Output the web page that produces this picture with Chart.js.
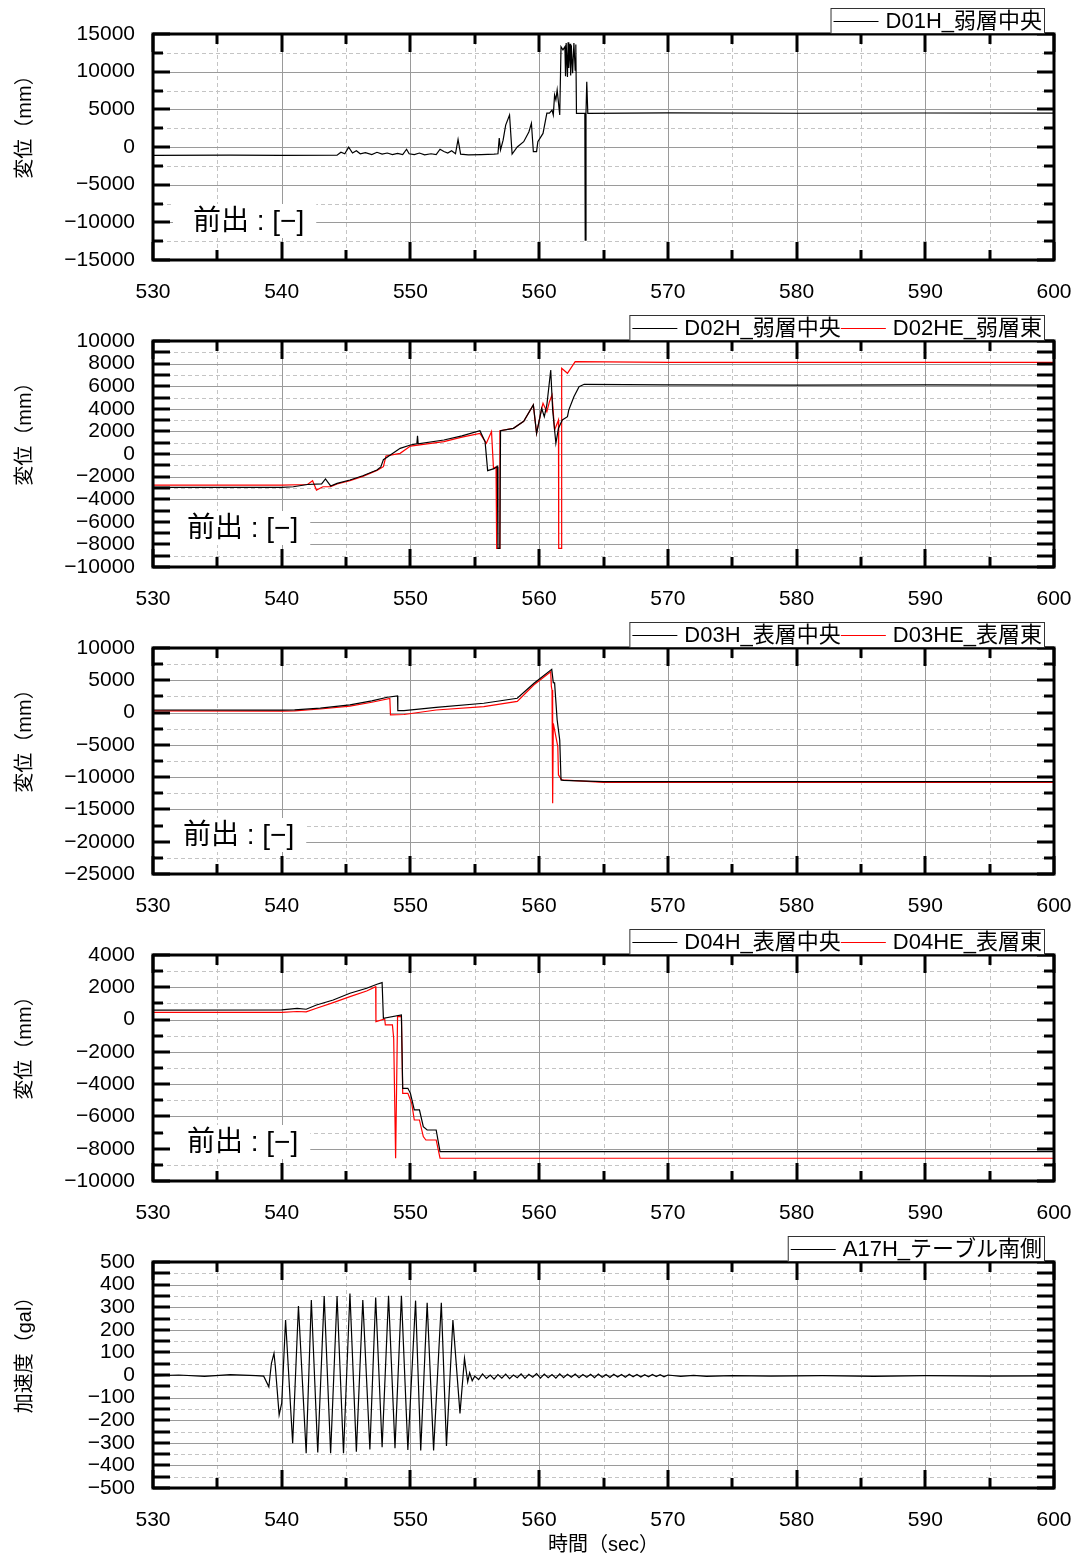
<!DOCTYPE html>
<html lang="ja">
<head>
<meta charset="utf-8">
<title>変位・加速度 時刻歴</title>
<script src="https://cdn.jsdelivr.net/npm/chart.js@4.4.1/dist/chart.umd.min.js"></script>
<style>
  html, body { margin: 0; padding: 0; background: #fff; }
  #wrap { position: relative; width: 1078px; height: 1560px; overflow: hidden; }
  #wrap canvas { position: absolute; left: 0; }
</style>
</head>
<body>
<div id="wrap"></div>
<script>
// ---- time axis ----
const timeTicks = [530, 540, 550, 560, 570, 580, 590, 600];

// ---- D01H 弱層中央 [t (sec), mm] ----
const d01h = [
  [530, -1100], [536, -1080], [540, -1110], [544.3, -1090], [544.6, -700], [544.9, -900], [545.2, -20],
  [545.5, -800], [545.8, -500], [546.1, -900], [546.5, -750], [547, -1000], [547.4, -700], [547.8, -950],
  [548.2, -800], [548.6, -1000], [549, -850], [549.4, -1000], [549.7, -300], [549.9, -900], [550.3, -1000],
  [550.7, -800], [551.1, -1050], [551.6, -900], [552, -1000], [552.3, -300], [552.6, -600], [552.9, -800],
  [553.2, -500], [553.5, -900], [553.7, 1000], [553.9, -950], [554.5, -1050], [555.5, -1000], [556.5, -950],
  [556.8, -900], [556.9, 1200], [557.0, -400], [557.2, 900], [557.4, 2900], [557.7, 4250], [557.9, -930],
  [558.3, 0], [558.8, 700], [559.2, 2000], [559.4, 3150], [559.55, -620], [559.8, -620], [559.9, 700],
  [560.3, 1800], [560.6, 4500], [560.8, 4500], [561.0, 4900], [561.1, 4250], [561.2, 6900], [561.3, 6250],
  [561.4, 7570], [561.6, 4250], [561.7, 13300], [561.85, 12900], [562.0, 13300], [562.05, 9400],
  [562.1, 13800], [562.2, 9300], [562.25, 13900], [562.3, 10500], [562.4, 13700], [562.45, 9500],
  [562.5, 13500], [562.6, 9800], [562.7, 13800], [562.8, 10200], [562.85, 13600], [562.9, 4470],
  [563.55, 4470], [563.58, -12350], [563.64, 4470], [563.7, 8670], [563.78, 4470], [570, 4520],
  [580, 4480], [590, 4510], [600, 4500]
];

// ---- D02H 弱層中央 / D02HE 弱層東 ----
const d02h = [
  [530, -2950], [540, -2950], [540.9, -2900], [542, -2700], [543.1, -2650], [543.4, -2210], [543.8, -2830],
  [544.3, -2600], [545.3, -2300], [546.3, -1920], [547.4, -1420], [547.7, -1150], [547.9, -500],
  [548.3, -200], [549.2, 500], [550.0, 800], [550.5, 900], [550.55, 1600], [550.6, 900], [552.6, 1240],
  [554, 1600], [555.4, 2060], [555.8, 1090], [556.0, -1470], [556.5, -1300], [556.75, -1100],
  [556.8, -8350], [556.95, -8350], [557.0, 2060], [558.0, 2270], [558.8, 2900], [559.55, 4340],
  [559.8, 1830], [560.2, 4040], [560.4, 3300], [560.6, 4340], [560.9, 7430], [561.05, 3890],
  [561.3, 950], [561.5, 2270], [561.8, 3010], [562.2, 3300], [562.3, 3890], [562.7, 5070], [563.1, 5960],
  [563.5, 6170], [570, 6120], [580, 6100], [590, 6110], [600, 6100]
];
const d02he = [
  [530, -2750], [540, -2750], [542, -2700], [542.4, -2360], [542.7, -3190], [543.2, -2900], [543.8, -2890],
  [544.3, -2650], [545.3, -2350], [546.3, -1980], [547.4, -1450], [547.9, -1120], [548.1, -180],
  [549.2, 60], [550.0, 700], [552.6, 1090], [554, 1500], [555.4, 1830], [555.9, 950], [556.3, 1980],
  [556.45, -1240], [556.65, -1150], [556.7, -8350], [556.9, -8350], [556.95, 2060], [558.0, 2270],
  [558.8, 2900], [559.55, 4340], [559.8, 1830], [560.2, 4040], [560.3, 4490], [560.6, 3740],
  [560.8, 4630], [561.0, 5220], [561.2, 2120], [561.5, 3010], [561.52, -8350], [561.72, -8350],
  [561.75, 7580], [562.2, 7140], [562.8, 8170], [570, 8100], [580, 8100], [590, 8110], [600, 8100]
];

// ---- D03H 表層中央 / D03HE 表層東 ----
const d03h = [
  [530, 400], [540, 380], [541, 420], [543, 700], [545.3, 1180], [547, 1800], [548.2, 2370], [549.0, 2570],
  [549.02, 300], [549.5, 300], [552, 800], [555.7, 1440], [558.3, 2210], [559.6, 4540], [560.98, 6700],
  [561.1, 4630], [561.2, 4600], [561.4, -1150], [561.6, -4240], [561.7, -10430], [561.9, -10500],
  [565, -10700], [580, -10700], [600, -10700]
];
const d03he = [
  [530, 250], [540, 230], [541, 270], [543, 550], [545.3, 1010], [547, 1600], [548.4, 2200], [548.45, -370],
  [549.5, -300], [552, 400], [555.7, 920], [558.3, 1740], [559.6, 4300], [560.9, 6330], [560.95, 4010],
  [561.0, 3500], [561.05, -14050], [561.1, -1660], [561.45, -5280], [561.5, -9660], [561.75, -10430],
  [565, -10800], [580, -10800], [600, -10800]
];

// ---- D04H 表層中央 / D04HE 表層東 ----
const d04h = [
  [530, 590], [540, 600], [541.2, 690], [541.9, 640], [542.7, 900], [544, 1210], [545.3, 1630],
  [546.6, 1940], [547.4, 2190], [547.8, 2290], [547.9, 80], [549.3, 290], [549.4, -4260], [549.8, -4260],
  [550.0, -4570], [550.3, -5600], [550.7, -5600], [551.0, -6630], [551.3, -6840], [552.0, -6840],
  [552.3, -8180], [600, -8180]
];
const d04he = [
  [530, 450], [540, 440], [541.2, 500], [541.9, 480], [542.7, 700], [544, 1050], [545.3, 1420],
  [546.6, 1770], [547.3, 2040], [547.32, -130], [548.0, 40], [548.05, -330], [548.6, -330],
  [548.7, -1160], [548.85, -8590], [549.0, 180], [549.3, 200], [549.4, -4570], [549.8, -4570],
  [550.1, -5190], [550.3, -6220], [550.7, -6220], [551.0, -7250], [551.2, -7460], [552.0, -7460],
  [552.3, -8590], [600, -8590]
];

// ---- A17H テーブル南側 [t (sec), gal] ----
const a17h = [
  [530, -4], [532, 0], [534, -6], [536, 2], [538, -3], [538.6, -5], [539.0, -52], [539.2, 52], [539.4, 96],
  [539.5, 40], [539.8, -177], [540.0, -125], [540.3, 243], [540.85, -302], [541.3, 305], [541.9, -346],
  [542.3, 332], [542.8, -343], [543.3, 350], [543.8, -346], [544.3, 350], [544.8, -346], [545.3, 361],
  [545.8, -339], [546.3, 332], [546.85, -329], [547.3, 343], [547.8, -320], [548.3, 350], [548.8, -324],
  [549.3, 350], [549.8, -332], [550.4, 329], [550.8, -334], [551.3, 320], [551.8, -334], [552.4, 320],
  [552.8, -314], [553.3, 243], [553.85, -170], [554.2, 74], [554.45, -30], [554.6, 10], [554.8, -25],
  [555, -5], [555.3, -20], [555.6, 5], [555.9, -15], [556.2, 0], [556.5, -18], [556.8, 2], [557.1, -14],
  [557.4, 4], [557.7, -16], [558, 0], [558.3, -12], [558.6, 5], [558.9, -15], [559.2, 3], [559.5, -10],
  [559.8, 6], [560.1, -14], [560.4, 4], [560.7, -12], [561, 2], [561.3, -14], [561.6, 5], [561.9, -12],
  [562.2, 3], [562.5, -10], [562.8, 4], [563.1, -12], [563.4, 2], [563.7, -10], [564, 3], [564.3, -12],
  [564.6, 4], [564.9, -10], [565.2, 2], [565.5, -11], [565.8, 3], [566.1, -9], [566.4, 2], [566.7, -10],
  [567, 3], [567.3, -8], [567.6, 2], [567.9, -9], [568.2, 1], [568.5, -8], [568.8, 2], [569.1, -7],
  [569.4, 1], [569.7, -8], [570, 0], [571, -6], [572, -2], [573, -6], [575, -3], [578, -5], [582, -3],
  [586, -6], [590, -3], [595, -5], [600, -4]
];

// ---- y tick labels per panel ----
const ticks01 = [-15000, -10000, -5000, 0, 5000, 10000, 15000];
const ticks02 = [-10000, -8000, -6000, -4000, -2000, 0, 2000, 4000, 6000, 8000, 10000];
const ticks03 = [-25000, -20000, -15000, -10000, -5000, 0, 5000, 10000];
const ticks04 = [-10000, -8000, -6000, -4000, -2000, 0, 2000, 4000];
const ticks05 = [-500, -400, -300, -200, -100, 0, 100, 200, 300, 400, 500];

const BLACK = '#000000';
const RED = '#ff0000';
const LATIN_CJK = "'Liberation Sans', 'Noto Sans CJK JP', sans-serif";

const panels = [
  { series: [{ label: 'D01H_弱層中央', data: d01h, color: BLACK }],
    yTicks: ticks01, minor: 2500, minorLen: 10, title: '変位（mm）', noteX: 193 },
  { series: [{ label: 'D02H_弱層中央', data: d02h, color: BLACK }, { label: 'D02HE_弱層東', data: d02he, color: RED }],
    yTicks: ticks02, minor: 1000, minorLen: 17, title: '変位（mm）', noteX: 187 },
  { series: [{ label: 'D03H_表層中央', data: d03h, color: BLACK }, { label: 'D03HE_表層東', data: d03he, color: RED }],
    yTicks: ticks03, minor: 2500, minorLen: 10, title: '変位（mm）', noteX: 183 },
  { series: [{ label: 'D04H_表層中央', data: d04h, color: BLACK }, { label: 'D04HE_表層東', data: d04he, color: RED }],
    yTicks: ticks04, minor: 1000, minorLen: 10, title: '変位（mm）', noteX: 187 },
  { series: [{ label: 'A17H_テーブル南側', data: a17h, color: BLACK }],
    yTicks: ticks05, minor: 50, minorLen: 17, title: '加速度（gal）', xTitle: '時間（sec）' }
];

const PANEL_STEP = 307;
const PLOT_LEFT = 153, PLOT_RIGHT = 1054, PLOT_TOP = 34, PLOT_BOTTOM = 260;

function fmt(v) {
  return v < 0 ? '\u2212' + Math.abs(v) : String(v);
}

function hline(ctx, y, x0, x1) {
  const yy = Math.round(y) + 0.5;
  ctx.beginPath(); ctx.moveTo(x0, yy); ctx.lineTo(x1, yy); ctx.stroke();
}
function vline(ctx, x, y0, y1) {
  const xx = Math.round(x) + 0.5;
  ctx.beginPath(); ctx.moveTo(xx, y0); ctx.lineTo(xx, y1); ctx.stroke();
}

// grid, frame, inward ticks, legend box, titles
const framePlugin = {
  id: 'frame',
  beforeDatasetsDraw(chart) {
    const p = chart.options.plugins.frame;
    const ctx = chart.ctx;
    const { left, right, top, bottom } = chart.chartArea;
    const xs = chart.scales.x, ys = chart.scales.y;
    const yMin = p.yTicks[0], yMax = p.yTicks[p.yTicks.length - 1];
    ctx.save();
    ctx.lineWidth = 1;

    // minor (dashed) grid
    ctx.strokeStyle = '#c4c4c4';
    ctx.setLineDash([4, 3]);
    for (let t = timeTicks[0] + 5; t < timeTicks[timeTicks.length - 1]; t += 10) {
      vline(ctx, xs.getPixelForValue(t), top, bottom);
    }
    for (let v = yMin + p.minor; v < yMax; v += p.minor) {
      if (p.yTicks.includes(v)) continue;
      hline(ctx, ys.getPixelForValue(v), left, right);
    }

    // major (solid) grid
    ctx.setLineDash([]);
    ctx.strokeStyle = '#9a9a9a';
    timeTicks.slice(1, -1).forEach(t => vline(ctx, xs.getPixelForValue(t), top, bottom));
    p.yTicks.slice(1, -1).forEach(v => hline(ctx, ys.getPixelForValue(v), left, right));

    // 前出 note with white backing
    if (p.noteX) {
      ctx.font = "28px 'Liberation Sans', 'Noto Sans CJK JP', sans-serif";
      const text = '前出 : [\u2212]';
      const w = ctx.measureText(text).width;
      const cy = 221;
      ctx.fillStyle = '#ffffff';
      ctx.fillRect(p.noteX - 20, cy - 17, w + 32, 34);
      ctx.fillStyle = '#000';
      ctx.textBaseline = 'middle';
      ctx.textAlign = 'left';
      ctx.fillText(text, p.noteX, cy + 1);
    }
    ctx.restore();
  },
  afterDatasetsDraw(chart) {
    const p = chart.options.plugins.frame;
    const ctx = chart.ctx;
    const { left, right, top, bottom } = chart.chartArea;
    const xs = chart.scales.x, ys = chart.scales.y;
    const yMin = p.yTicks[0], yMax = p.yTicks[p.yTicks.length - 1];
    ctx.save();
    ctx.strokeStyle = '#000';
    ctx.lineWidth = 3;

    // x ticks, top and bottom, pointing inward
    for (let t = timeTicks[0]; t <= timeTicks[timeTicks.length - 1]; t += 5) {
      const len = timeTicks.includes(t) ? 18 : 10;
      const x = Math.round(xs.getPixelForValue(t));
      ctx.beginPath();
      ctx.moveTo(x, bottom); ctx.lineTo(x, bottom - len);
      ctx.moveTo(x, top); ctx.lineTo(x, top + len);
      ctx.stroke();
    }
    // y ticks, left and right
    for (let v = yMin; v <= yMax; v += p.minor) {
      const len = p.yTicks.includes(v) ? 17 : p.minorLen;
      const y = Math.round(ys.getPixelForValue(v));
      ctx.beginPath();
      ctx.moveTo(left, y); ctx.lineTo(left + len, y);
      ctx.moveTo(right, y); ctx.lineTo(right - len, y);
      ctx.stroke();
    }
    ctx.strokeRect(left, top, right - left, bottom - top);

    // legend box above the plot, right aligned
    ctx.font = '22px ' + LATIN_CJK;
    const lineLen = 45, gap = 7;
    const widths = p.series.map(s => lineLen + gap + ctx.measureText(s.label).width);
    const boxRight = 1044, boxTop = 8, boxH = 25;
    const boxLeft = boxRight - widths.reduce((a, b) => a + b, 0) - 5;
    ctx.fillStyle = '#fff';
    ctx.fillRect(boxLeft, boxTop, boxRight - boxLeft, boxH);
    ctx.lineWidth = 1;
    ctx.strokeStyle = '#333';
    ctx.strokeRect(boxLeft + 0.5, boxTop + 0.5, boxRight - boxLeft, boxH);
    let x = boxLeft + 3;
    const my = boxTop + boxH / 2;
    ctx.textBaseline = 'middle';
    ctx.textAlign = 'left';
    p.series.forEach((s, i) => {
      ctx.strokeStyle = s.color;
      ctx.beginPath(); ctx.moveTo(x, Math.round(my) + 0.5); ctx.lineTo(x + lineLen, Math.round(my) + 0.5); ctx.stroke();
      ctx.fillStyle = '#000';
      ctx.fillText(s.label, x + lineLen + gap, my + 1);
      x += widths[i];
    });

    // axis titles
    ctx.font = '20px ' + LATIN_CJK;
    ctx.textAlign = 'center';
    ctx.save();
    ctx.translate(25, (top + bottom) / 2 - 25);
    ctx.rotate(-Math.PI / 2);
    ctx.fillText(p.title, 0, 0);
    ctx.restore();
    if (p.xTitle) {
      ctx.fillText(p.xTitle, (left + right) / 2, 317);
    }
    ctx.restore();
  }
};

const wrap = document.getElementById('wrap');

panels.forEach((p, i) => {
  const h = i === panels.length - 1 ? 1560 - i * PANEL_STEP : PANEL_STEP;
  const canvas = document.createElement('canvas');
  canvas.width = 1078;
  canvas.height = h;
  canvas.style.top = (i * PANEL_STEP) + 'px';
  wrap.appendChild(canvas);

  new Chart(canvas, {
    type: 'line',
    data: {
      datasets: p.series.map(s => ({
        label: s.label,
        data: s.data.map(([x, y]) => ({ x, y })),
        borderColor: s.color,
        borderWidth: 1.2,
        pointRadius: 0,
        tension: 0,
        fill: false
      }))
    },
    options: {
      responsive: false,
      animation: false,
      devicePixelRatio: 1,
      layout: { padding: { top: PLOT_TOP, left: 0, right: 1078 - PLOT_RIGHT, bottom: 0 } },
      plugins: {
        legend: { display: false },
        tooltip: { enabled: false },
        frame: p
      },
      scales: {
        x: {
          type: 'linear',
          min: timeTicks[0],
          max: timeTicks[timeTicks.length - 1],
          afterFit: s => { s.height = h - PLOT_BOTTOM; s.paddingLeft = 0; s.paddingRight = 0; },
          afterBuildTicks: s => { s.ticks = timeTicks.map(v => ({ value: v })); },
          grid: { display: false, drawTicks: false },
          border: { display: false },
          ticks: {
            padding: 20,
            color: '#000',
            maxRotation: 0,
            autoSkip: false,
            font: { family: LATIN_CJK, size: 21 },
            callback: v => fmt(v)
          }
        },
        y: {
          type: 'linear',
          min: p.yTicks[0],
          max: p.yTicks[p.yTicks.length - 1],
          afterFit: s => { s.width = PLOT_LEFT; s.paddingTop = 0; s.paddingBottom = 0; },
          afterBuildTicks: s => { s.ticks = p.yTicks.map(v => ({ value: v })); },
          grid: { display: false, drawTicks: false },
          border: { display: false },
          ticks: {
            padding: 18,
            color: '#000',
            autoSkip: false,
            font: { family: LATIN_CJK, size: 21 },
            callback: v => fmt(v)
          }
        }
      }
    },
    plugins: [framePlugin]
  });
});
</script>
</body>
</html>
